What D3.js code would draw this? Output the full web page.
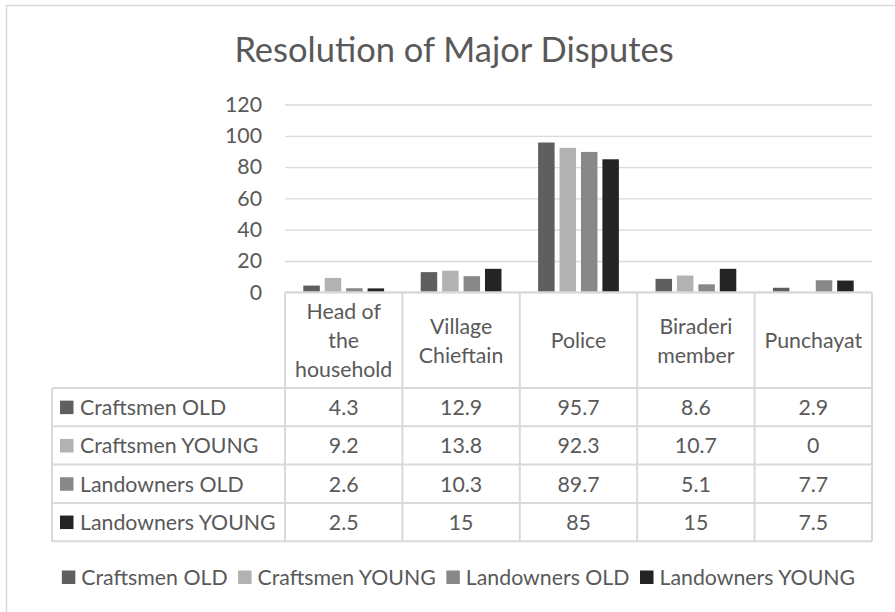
<!DOCTYPE html>
<html>
<head>
<meta charset="utf-8">
<script src="https://cdn.jsdelivr.net/npm/d3@7"></script>
<style>
  html, body { margin: 0; padding: 0; background: #fff; }
  text { font-family: Lato, "Open Sans", sans-serif; fill: #595959; }
</style>
</head>
<body>
<div id="chart"></div>
<script>
const categories = ["Head of the household", "Village Chieftain", "Police", "Biraderi member", "Punchayat"];
const categoryLines = [["Head of", "the", "household"], ["Village", "Chieftain"], ["Police"], ["Biraderi", "member"], ["Punchayat"]];
const seriesNames = ["Craftsmen OLD", "Craftsmen YOUNG", "Landowners OLD", "Landowners YOUNG"];
const craftsmenOld = [4.3, 12.9, 95.7, 8.6, 2.9];
const craftsmenYoung = [9.2, 13.8, 92.3, 10.7, 0];
const landownersOld = [2.6, 10.3, 89.7, 5.1, 7.7];
const landownersYoung = [2.5, 15, 85, 15, 7.5];
const yTicks = [0, 20, 40, 60, 80, 100, 120];
const colors = ["#5f5f5f", "#b2b2b2", "#888888", "#242424"];

const seriesValues = [craftsmenOld, craftsmenYoung, landownersOld, landownersYoung];

const width = 895, height = 612;
const plotLeft = 285, plotRight = 872, plotTop = 104.5, plotBottom = 292.3;
const tableLeft = 52, headerBottom = 388, rowH = 38.3;
const gridColor = "#d9d9d9";
const fs = "21.3px";

const svg = d3.select("#chart").append("svg")
  .attr("width", width)
  .attr("height", height);

svg.append("rect").attr("width", width).attr("height", height).attr("fill", "#fff");

// outer chart frame (only top and left edges are visible in the crop)
svg.append("rect")
  .attr("x", 6.5).attr("y", 5.5)
  .attr("width", 950).attr("height", 700)
  .attr("fill", "none")
  .attr("stroke", gridColor)
  .attr("stroke-width", 1.5);

// title
svg.append("text")
  .attr("x", 454).attr("y", 62)
  .attr("text-anchor", "middle")
  .style("font-size", "34.5px")
  .text("Resolution of Major Disputes");

const x0 = d3.scaleBand()
  .domain(categories)
  .range([plotLeft, plotRight])
  .padding(0);

const bw = x0.bandwidth();
const x1 = d3.scaleBand()
  .domain(seriesNames)
  .range([bw * 0.156, bw * 0.844])
  .paddingInner(0.23)
  .paddingOuter(0);

const y = d3.scaleLinear()
  .domain([0, 120])
  .range([plotBottom, plotTop]);

// gridlines + y labels
const yAxis = svg.append("g")
  .attr("transform", "translate(" + plotLeft + ",0)")
  .call(d3.axisLeft(y).tickValues(yTicks).tickSize(-(plotRight - plotLeft)).tickPadding(23));
yAxis.select(".domain").remove();
yAxis.selectAll(".tick line")
  .attr("stroke", gridColor)
  .attr("stroke-width", 1.3);
yAxis.selectAll(".tick text")
  .style("font-size", fs)
  .style("font-family", "Lato, 'Open Sans', sans-serif")
  .attr("fill", "#595959");

// bars
const groups = svg.append("g").selectAll("g")
  .data(categories)
  .enter().append("g")
    .attr("transform", d => "translate(" + x0(d) + ",0)");

groups.selectAll("rect")
  .data((d, i) => seriesNames.map((s, j) => ({ s: s, v: seriesValues[j][i], c: colors[j] })))
  .enter().append("rect")
    .attr("x", d => x1(d.s))
    .attr("width", x1.bandwidth())
    .attr("y", d => y(d.v))
    .attr("height", d => y(0) - y(d.v))
    .attr("fill", d => d.c);

// data table
const table = svg.append("g");
const tableBottom = headerBottom + rowH * seriesNames.length;

table.append("line")
  .attr("x1", plotLeft).attr("x2", plotRight)
  .attr("y1", plotBottom).attr("y2", plotBottom)
  .attr("stroke", gridColor).attr("stroke-width", 2);

const colEdges = categories.map(c => x0(c)).concat([plotRight]);
colEdges.forEach(xv => {
  table.append("line")
    .attr("x1", xv).attr("x2", xv)
    .attr("y1", plotBottom).attr("y2", tableBottom)
    .attr("stroke", gridColor).attr("stroke-width", 2);
});
table.append("line")
  .attr("x1", tableLeft).attr("x2", tableLeft)
  .attr("y1", headerBottom).attr("y2", tableBottom)
  .attr("stroke", gridColor).attr("stroke-width", 2);
for (let r = 0; r <= seriesNames.length; r++) {
  table.append("line")
    .attr("x1", tableLeft).attr("x2", plotRight)
    .attr("y1", headerBottom + r * rowH).attr("y2", headerBottom + r * rowH)
    .attr("stroke", gridColor).attr("stroke-width", 2);
}

// header labels
const headerMid = (plotBottom + headerBottom) / 2;
const lineH = 29.3;
categories.forEach((c, i) => {
  const lines = categoryLines[i];
  const t = table.append("text")
    .attr("text-anchor", "middle")
    .attr("dominant-baseline", "central")
    .style("font-size", fs);
  lines.forEach((ln, k) => {
    t.append("tspan")
      .attr("x", x0(c) + bw / 2)
      .attr("y", headerMid + (k - (lines.length - 1) / 2) * lineH)
      .text(ln);
  });
});

// rows
seriesNames.forEach((s, j) => {
  const cy = headerBottom + rowH * j + rowH / 2;
  table.append("rect")
    .attr("x", 60).attr("y", cy - 6.5)
    .attr("width", 13.5).attr("height", 13.5)
    .attr("fill", colors[j]);
  table.append("text")
    .attr("x", 80).attr("y", cy)
    .attr("dominant-baseline", "central")
    .style("font-size", fs)
    .text(s);
  categories.forEach((c, i) => {
    table.append("text")
      .attr("x", x0(c) + bw / 2).attr("y", cy)
      .attr("text-anchor", "middle")
      .attr("dominant-baseline", "central")
      .style("font-size", fs)
      .text(seriesValues[j][i]);
  });
});

// legend
const legend = svg.append("g");
const legendY = 577;
let lx = 0;
seriesNames.forEach((s, j) => {
  const g = legend.append("g");
  g.append("rect")
    .attr("x", lx).attr("y", legendY - 6.5)
    .attr("width", 13.5).attr("height", 13.5)
    .attr("fill", colors[j]);
  const t = g.append("text")
    .attr("x", lx + 19.5).attr("y", legendY)
    .attr("dominant-baseline", "central")
    .style("font-size", fs)
    .text(s);
  lx += 19.5 + t.node().getComputedTextLength() + 10.5;
});
const legendW = lx - 10.5;
legend.attr("transform", "translate(" + (458.5 - legendW / 2) + ",0)");
</script>
</body>
</html>
